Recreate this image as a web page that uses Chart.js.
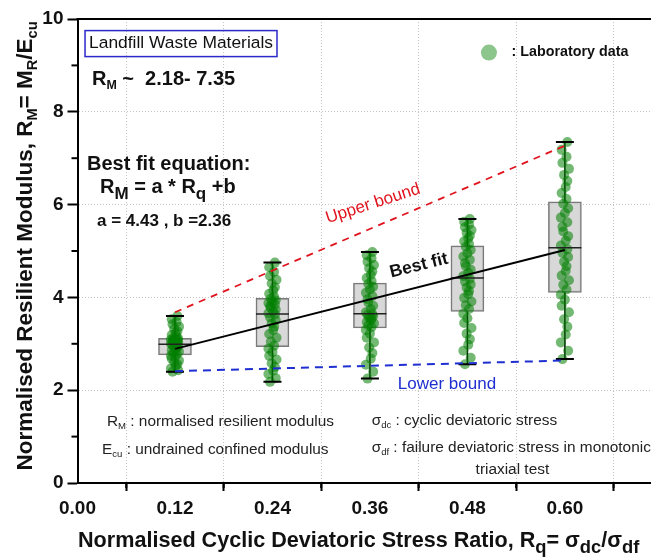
<!DOCTYPE html>
<html><head><meta charset="utf-8">
<script src="https://cdn.jsdelivr.net/npm/chart.js@4.4.1/dist/chart.umd.min.js"></script>
<style>html,body{margin:0;padding:0;background:#fff;overflow:hidden}canvas{display:block}</style>
</head><body>
<canvas id="c" width="651" height="558"></canvas>
<script>
// ---- data ----
const stressRatio = [0.12, 0.24, 0.36, 0.48, 0.60];
const whiskerLow  = [2.40, 2.18, 2.25, 2.56, 2.67];
const q1          = [2.76, 2.94, 3.34, 3.70, 4.11];
const median      = [2.99, 3.64, 3.65, 4.42, 5.07];
const q3          = [3.12, 3.98, 4.31, 5.11, 6.06];
const whiskerHigh = [3.60, 4.75, 4.98, 5.69, 7.35];

const lab012 = [2.40,2.43,2.47,2.52,2.56,2.60,2.64,2.68,2.71,2.74, 2.77,2.80,2.83,2.86,2.88,2.91,2.93,2.95,2.97,2.99,
                3.00,3.02,3.03,3.05,3.06,3.08,3.09,3.10,3.11,3.12, 3.15,3.19,3.23,3.27,3.32,3.37,3.42,3.47,3.53,3.60];
const lab024 = [2.18,2.26,2.35,2.42,2.50,2.58,2.66,2.74,2.82,2.90, 2.96,3.05,3.13,3.21,3.30,3.37,3.44,3.51,3.57,3.63,
                3.66,3.70,3.74,3.78,3.81,3.85,3.88,3.91,3.94,3.97, 4.02,4.08,4.15,4.22,4.30,4.38,4.46,4.55,4.65,4.75];
const lab036 = [2.25,2.40,2.55,2.68,2.80,2.92,3.03,3.13,3.22,3.30, 3.36,3.40,3.44,3.47,3.51,3.54,3.57,3.60,3.62,3.64,
                3.68,3.75,3.82,3.89,3.96,4.03,4.10,4.17,4.23,4.29, 4.35,4.42,4.49,4.56,4.63,4.70,4.77,4.84,4.91,4.98];
const lab048 = [2.56,2.70,2.85,2.98,3.10,3.22,3.34,3.45,3.55,3.65, 3.75,3.83,3.91,3.99,4.07,4.14,4.21,4.28,4.34,4.40,
                4.46,4.53,4.60,4.67,4.74,4.81,4.88,4.95,5.02,5.09, 5.15,5.21,5.27,5.33,5.39,5.45,5.51,5.57,5.63,5.69];
const lab060 = [2.67,2.85,3.03,3.20,3.37,3.53,3.68,3.82,3.95,4.06, 4.17,4.27,4.37,4.47,4.57,4.67,4.77,4.87,4.96,5.04,
                5.12,5.22,5.32,5.42,5.52,5.62,5.72,5.82,5.92,6.02, 6.12,6.25,6.38,6.51,6.64,6.77,6.90,7.03,7.18,7.35];
const labData = [lab012, lab024, lab036, lab048, lab060];
const jitter = [-0.003,0.004,-0.005,0.001,0.003,-0.001,0.005,-0.004,0.000,-0.005,0.002,-0.002,0.005,-0.004,0.001,0.002,-0.001,0.004,-0.003,0.003,
                -0.005,0.001,0.004,-0.002,-0.003,0.003,-0.005,0.000,0.004,-0.002,0.002,-0.004,0.001,0.003,-0.001,0.005,-0.003,0.002,-0.004,0.003];

const fitX = [0.12, 0.60],  fitY = [2.89, 5.02];
const upperX = [0.12, 0.60], upperY = [3.68, 7.27];
const lowerX = [0.12, 0.60], lowerY = [2.41, 2.64];

const xTicks = [0.00, 0.12, 0.24, 0.36, 0.48, 0.60];
const xMinor = [0.06, 0.18, 0.30, 0.42, 0.54, 0.66];
const yTicks = [0, 2, 4, 6, 8, 10];
const yMinor = [1, 3, 5, 7, 9];

// ---- drawing ----
const FONT = '"Liberation Sans", Arial, Helvetica, sans-serif';
const GREEN = 'rgba(0,128,0,0.55)';

function drawRich(ctx, parts, x, y, size, weight, color, opts) {
  opts = opts || {};
  const subScale = opts.subScale || 0.62, subDrop = opts.subDrop || 0.3;
  ctx.save();
  ctx.fillStyle = color; ctx.textBaseline = 'middle'; ctx.textAlign = 'left';
  let w = 0;
  for (const [t, k] of parts) { ctx.font = `${weight} ${k === 's' ? size * subScale : size}px ${FONT}`; w += ctx.measureText(t).width; }
  let cx = opts.align === 'center' ? x - w / 2 : x;
  for (const [t, k] of parts) {
    const s = k === 's' ? size * subScale : size;
    ctx.font = `${weight} ${s}px ${FONT}`;
    ctx.fillText(t, cx, k === 's' ? y + size * subDrop : y);
    cx += ctx.measureText(t).width;
  }
  ctx.restore();
  return w;
}

const decor = {
  id: 'decor',
  afterDraw(chart) {
    const {ctx, chartArea: a, scales: {x, y}} = chart;
    const X = v => x.getPixelForValue(v), Y = v => y.getPixelForValue(v);
    ctx.save();
    ctx.strokeStyle = '#000'; ctx.lineWidth = 2;
    ctx.beginPath(); ctx.moveTo(a.left - 1, a.top); ctx.lineTo(a.right, a.top); ctx.stroke();
    yMinor.forEach(v => { ctx.beginPath(); ctx.moveTo(a.left - 6, Y(v)); ctx.lineTo(a.left, Y(v)); ctx.stroke(); });
    xMinor.forEach(v => { ctx.beginPath(); ctx.moveTo(X(v), a.bottom); ctx.lineTo(X(v), a.bottom + 5); ctx.stroke(); });
    ctx.restore();

    // title box
    ctx.save();
    ctx.font = `400 17.4px ${FONT}`;
    const tw = ctx.measureText('Landfill Waste Materials').width;
    const bx = X(0.0142), by = Y(9.47);
    ctx.strokeStyle = '#2a2ac8'; ctx.lineWidth = 1.5;
    ctx.strokeRect(bx - 4, by - 13, tw + 8, 26);
    ctx.restore();
    drawRich(ctx, [['Landfill Waste Materials', 'n']], bx, by, 17.4, 400, '#111');

    drawRich(ctx, [['R', 'n'], ['M', 's'], [' ~  2.18- 7.35', 'n']], X(0.0178), Y(8.695), 20, 700, '#111');
    drawRich(ctx, [['Best fit equation:', 'n']], X(0.0117), Y(6.861), 20, 700, '#111');
    drawRich(ctx, [['R', 'n'], ['M', 's'], [' = a * R', 'n'], ['q', 's'], [' +b', 'n']], X(0.0277), Y(6.365), 20, 700, '#111', {subScale: 0.85, subDrop: 0.35});
    drawRich(ctx, [['a = 4.43 , b =2.36', 'n']], X(0.024), Y(5.631), 17, 700, '#111');

    // legend
    ctx.save();
    ctx.fillStyle = 'rgba(0,128,0,0.45)';
    ctx.beginPath(); ctx.arc(X(0.5065), Y(9.277), 8, 0, Math.PI * 2); ctx.fill();
    ctx.restore();
    drawRich(ctx, [[': Laboratory data', 'n']], X(0.5344), Y(9.277), 14.3, 700, '#111');

    // line labels
    ctx.save(); ctx.translate(X(0.3637), Y(6.019)); ctx.rotate(-18 * Math.PI / 180);
    drawRich(ctx, [['Upper bound', 'n']], 0, 0, 17, 400, '#e0141e', {align: 'center'});
    ctx.restore();
    ctx.save(); ctx.translate(X(0.4203), Y(4.682)); ctx.rotate(-14 * Math.PI / 180);
    drawRich(ctx, [['Best fit', 'n']], 0, 0, 17.5, 700, '#111', {align: 'center'});
    ctx.restore();
    drawRich(ctx, [['Lower bound', 'n']], X(0.4548), Y(2.129), 17, 400, '#1f2fd0', {align: 'center'});

    // notes
    drawRich(ctx, [['R', 'n'], ['M', 's'], [' : normalised resilient modulus', 'n']], X(0.0363), Y(1.3225), 15.4, 400, '#222');
    drawRich(ctx, [['E', 'n'], ['cu', 's'], [' : undrained confined modulus', 'n']], X(0.0302), Y(0.712), 15.4, 400, '#222');
    drawRich(ctx, [['σ', 'n'], ['dc', 's'], [' : cyclic deviatoric stress', 'n']], X(0.3621), Y(1.344), 15.4, 400, '#222');
    drawRich(ctx, [['σ', 'n'], ['df', 's'], [' : failure deviatoric stress in monotonic', 'n']], X(0.3621), Y(0.7616), 15.4, 400, '#222');
    drawRich(ctx, [['triaxial test', 'n']], X(0.4901), Y(0.2956), 15.4, 400, '#222');

    // axis titles
    drawRich(ctx, [['Normalised Cyclic Deviatoric Stress Ratio, R', 'n'], ['q', 's'], ['= σ', 'n'], ['dc', 's'], ['/σ', 'n'], ['df', 's']],
      78, 541, 21.6, 700, '#111', {subScale: 0.85, subDrop: 0.33});
    ctx.save(); ctx.translate(26, 246); ctx.rotate(-Math.PI / 2);
    drawRich(ctx, [['Normalised Resilient Modulus, R', 'n'], ['M', 's'], ['= M', 'n'], ['R', 's'], ['/E', 'n'], ['cu', 's']],
      0, 0, 22.5, 700, '#111', {align: 'center', subScale: 0.65, subDrop: 0.3});
    ctx.restore();
  }
};

// ---- datasets built from the arrays ----
const datasets = [];
datasets.push({
  type: 'bar', label: 'box',
  data: stressRatio.map((v, i) => ({x: v, y: [q1[i], q3[i]]})),
  backgroundColor: 'rgba(212,212,212,0.9)', borderColor: '#7a7a7a', borderWidth: 1.5, borderSkipped: false,
  barThickness: 33, order: 10
});
stressRatio.forEach((v, i) => {
  datasets.push({
    type: 'line', label: 'whisker',
    data: [{x: v, y: whiskerLow[i]}, {x: v, y: q1[i]}, {x: v, y: null}, {x: v, y: q3[i]}, {x: v, y: whiskerHigh[i]}],
    borderColor: '#000', borderWidth: 1.5, pointRadius: 0, spanGaps: false, order: 9
  });
});
datasets.push({
  type: 'scatter', label: 'lab',
  data: labData.flatMap((arr, g) => arr.map((val, k) => ({x: stressRatio[g] + jitter[k % jitter.length], y: val}))),
  backgroundColor: GREEN, borderWidth: 0, pointRadius: 5, order: 8
});
datasets.push({
  type: 'scatter', label: 'caps',
  data: stressRatio.flatMap((v, i) => [{x: v, y: whiskerLow[i]}, {x: v, y: whiskerHigh[i]}]),
  pointStyle: 'line', pointRadius: 9, borderColor: '#000', borderWidth: 2, order: 7
});
datasets.push({
  type: 'scatter', label: 'median',
  data: stressRatio.map((v, i) => ({x: v, y: median[i]})),
  pointStyle: 'line', pointRadius: 16.5, borderColor: '#222', borderWidth: 1.5, order: 6
});
datasets.push({
  type: 'line', label: 'fit', data: fitX.map((v, i) => ({x: v, y: fitY[i]})),
  borderColor: '#000', borderWidth: 2, pointRadius: 0, order: 5
});
datasets.push({
  type: 'line', label: 'upper', data: upperX.map((v, i) => ({x: v, y: upperY[i]})),
  borderColor: '#e0141e', borderWidth: 1.8, borderDash: [7, 6], pointRadius: 0, order: 4
});
datasets.push({
  type: 'line', label: 'lower', data: lowerX.map((v, i) => ({x: v, y: lowerY[i]})),
  borderColor: '#1f2fd0', borderWidth: 2, borderDash: [8, 6], pointRadius: 0, order: 4
});

new Chart(document.getElementById('c'), {
  type: 'bar',
  data: {datasets},
  options: {
    responsive: false, animation: false, devicePixelRatio: 1,
    layout: {autoPadding: false, padding: {top: 19, right: 0, left: 0, bottom: 0}},
    plugins: {legend: {display: false}, tooltip: {enabled: false}},
    scales: {
      x: {
        type: 'linear', min: 0, max: 0.706, offset: false,
        afterBuildTicks: s => { s.ticks = xTicks.map(v => ({value: v})); },
        afterFit: s => { s.height = 75; s.paddingLeft = 0; s.paddingRight = 0; },
        ticks: {callback: v => v.toFixed(2), color: '#111', font: {family: FONT, size: 19, weight: 'bold'}, padding: 6, maxRotation: 0, autoSkip: false},
        grid: {color: '#c4c4c4', lineWidth: 1, tickColor: '#000', tickLength: 8, tickWidth: 2, tickBorderDash: []},
        border: {display: true, color: '#000', width: 2, dash: [1, 2]}
      },
      y: {
        min: 0, max: 10,
        afterBuildTicks: s => { s.ticks = yTicks.map(v => ({value: v})); },
        afterFit: s => { s.width = 77.5; s.paddingTop = 0; s.paddingBottom = 0; },
        ticks: {color: '#111', font: {family: FONT, size: 19, weight: 'bold'}, padding: 4},
        grid: {color: '#c4c4c4', lineWidth: 1, tickColor: '#000', tickLength: 10, tickWidth: 2, tickBorderDash: []},
        border: {display: true, color: '#000', width: 2, dash: [1, 2]}
      }
    }
  },
  plugins: [decor]
});
</script>
</body></html>
